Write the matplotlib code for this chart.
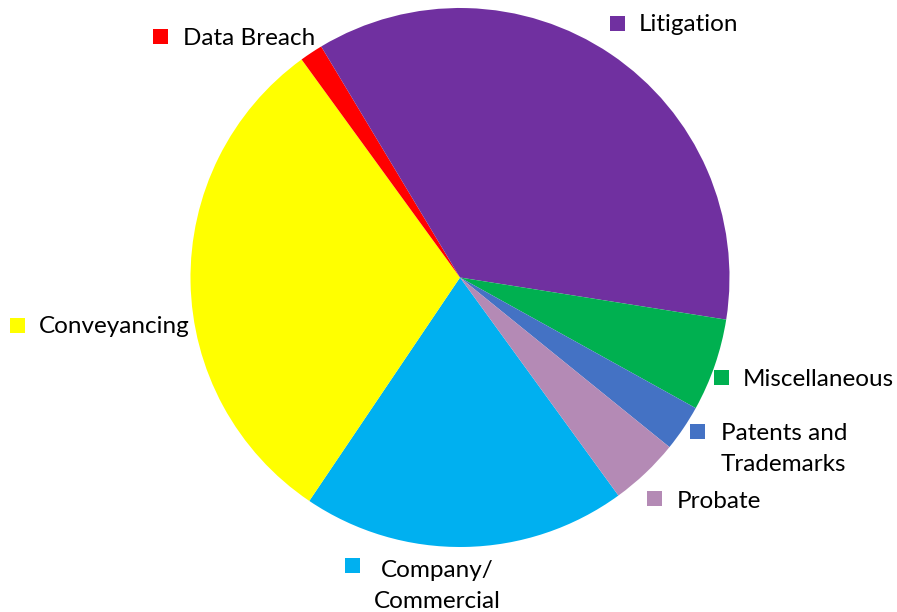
import matplotlib
matplotlib.use("Agg")
import matplotlib.pyplot as plt
from matplotlib.patches import Rectangle

categories = ["Company/\nCommercial", "Conveyancing", "Data Breach", "Litigation",
              "Miscellaneous", "Patents and\nTrademarks", "Probate"]
counts = [14, 22, 1, 26, 4, 2, 3]
colors = ["#00B0F0", "#FFFF00", "#FF0000", "#7030A0", "#00B050", "#4472C4", "#B48AB5"]

# label layout in pixel coords: marker centre x, y; text x; first baseline y; alignment
label_pos = [
    (352, 565, 437, 577, "center"),
    (17, 325, 39, 333, "left"),
    (160, 36, 183, 45, "left"),
    (617, 23, 639, 31, "left"),
    (721, 377, 743, 386, "left"),
    (697, 431, 721, 440, "left"),
    (654, 498, 677, 508, "left"),
]

W, H = 897, 612
fig = plt.figure(figsize=(W / 100, H / 100), dpi=100)
ax = fig.add_axes([0, 0, 1, 1])

ax.pie(counts, colors=colors, startangle=-54, counterclock=False,
       center=(460, H - 277.5), radius=269.5, frame=True,
       wedgeprops=dict(linewidth=0))
ax.set_xlim(0, W)
ax.set_ylim(0, H)
ax.axis("off")

sq = 15
line_gap = 31
for cat, col, (mx, my, tx, by, ha) in zip(categories, colors, label_pos):
    ax.add_patch(Rectangle((mx - sq / 2, H - my - sq / 2), sq, sq, color=col, lw=0))
    for i, line in enumerate(cat.split("\n")):
        ax.text(tx, H - by - i * line_gap, line, fontsize=17.5, family="Lato",
                color="black", ha=ha, va="baseline")

fig.savefig("out.png", dpi=100)
